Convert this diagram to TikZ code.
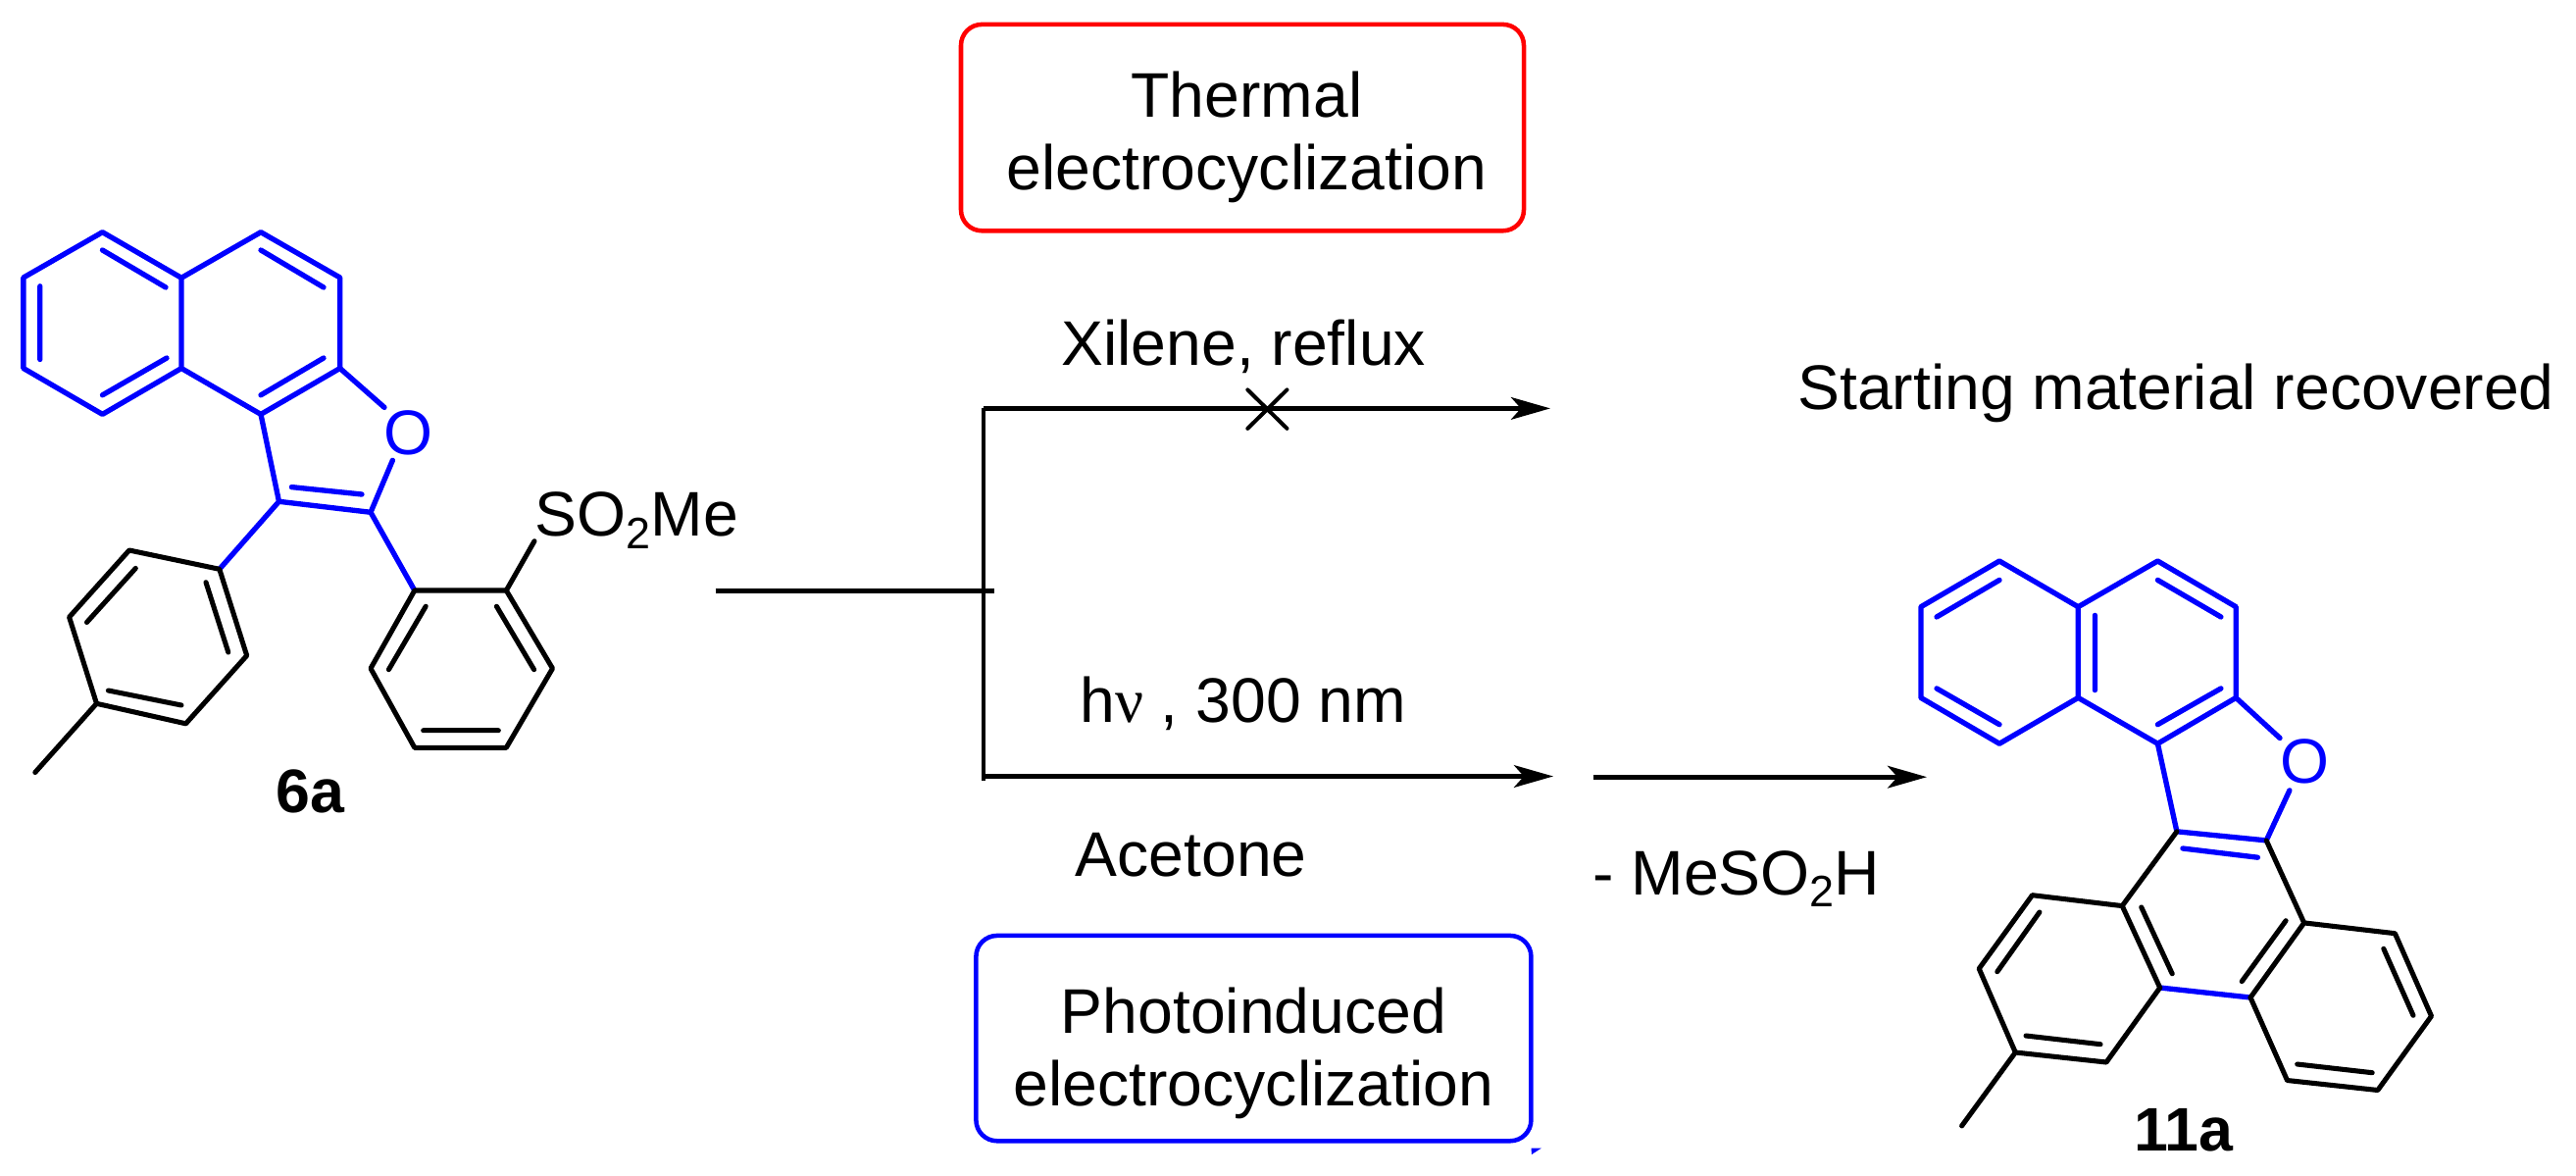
\documentclass[tikz,border=0pt]{standalone}
\usepackage{fontspec}
\setmainfont{Liberation Sans}
\newfontfamily\symfont{Liberation Serif}
\usetikzlibrary{arrows.meta}
\newcommand{\mainsize}{\fontsize{48.2pt}{55.8pt}\selectfont}
\newcommand{\boldsize}{\fontsize{47pt}{55.8pt}\selectfont}
\newcommand{\subtwo}{\raisebox{-9.2pt}{\fontsize{33.7pt}{33.7pt}\selectfont 2}}
\tikzset{
  bk/.style={draw=black,line width=3.8pt,line cap=round,line join=round},
  bl/.style={draw=blue,line width=4pt,line cap=round,line join=round},
  rline/.style={draw=black,line width=3.5pt},
  rarrow/.style={rline,-{Stealth[length=30pt,width=17pt,inset=7.5pt]}},
  lab/.style={inner sep=0pt,anchor=base,font=\mainsize,text=black},
  blab/.style={inner sep=0pt,anchor=base,font=\boldsize\bfseries,text=black},
  ringbox/.style={line width=3.4pt,rounded corners=16pt,fill=none,inner sep=0pt},
  boxtext/.style={inner sep=0pt,anchor=center,align=center,font=\mainsize,text=black},
}
\begin{document}
\begin{tikzpicture}[x=0.75pt,y=-0.75pt]
\useasboundingbox (0,0) rectangle (2627,1199);
% --- reactant 6a atoms
\foreach \n/\x/\y in {
 a1/104.5/236.7,a2/185/283.3,a3/266/236.7,a4/346.7/283,a5/346.7/375.5,a6/266/422.4,a7/185/375.5,a8/104.5/422.4,a9/23.9/375.5,a10/23.9/283,
 k/284.5/511.3,l/378/522.3,
 t1/223.8/580.3,t2/131.8/561,t3/70.6/629.2,t4/98.5/717.3,t5/189.5/737.8,t6/251.7/668.4,tm/35.8/787.5,
 r1/422.8/602,r2/516.3/602,r3/563.5/681.5,r4/516.3/762.3,r5/422.8/762.3,r6/378/681.5,
 se/545/551.7,oa/392/415.4,ob/400.4/469.3,
 ia1/104.5/255,ia2/169/293,ib1/266/255,ib2/330/293,ic1/40.8/291.8,ic2/40.8/366.5,id1/170/365,id2/104.5/402.8,ie1/330/365,ie2/266/402.8,
 if1/297.4/496.6,if2/369/504,ig1/210/593.7,ig2/232.8/665,ih1/138.3/579.4,ih2/88.5/634.5,ii1/110.4/704,ii2/185/719,
 ij1/434.2/618.2,ij2/396.4/682.7,ik1/506.4/618.2,ik2/544.6/682.7,il1/431.7/744.7,il2/508.3/744.7,
 % --- product 11a atoms
 p1/2039/572,p2/2119.3/618.7,p3/2200.4/572,p4/2280.2/618.7,p5/2280.2/711.4,p6/2200.4/758.2,p7/2119.3/711.4,p8/2039/758.2,p9/1958.9/711.4,p10/1958.9/618.7,
 q1/2219.9/847.8,q2/2311.2/856.9,q3/2349.7/940.9,q4/2295/1017,q5/2202.7/1007,q6/2164.2/923.6,
 u1/2072.5/912.7,u2/2018.2/987.6,u3/2055.3/1073,u4/2148/1083,um/2000.6/1147.9,
 v1/2442.4/951.7,v2/2479.5/1036,v3/2424.8/1111.5,v4/2332.5/1101.5,
 pa/2325/752.5,pb/2334.9/805.8,
 ja1/2039/591.4,ja2/1975/629,jb1/2200.4/591.4,jb2/2264.9/629,jc1/2136.4/627.4,jc2/2136.4/703.6,jd1/1975/701.9,jd2/2039/738.7,je1/2264.9/701.9,je2/2200.4/738.7,
 jf1/2225.9/865,jf2/2302.4/874.2,jg1/2183.7/924.9,jg2/2215.2/992.8,jh1/2331.1/938.7,jh2/2286.2/1000.6,ji1/2079.9/930,ji2/2036.8/990.7,jj1/2066/1056,jj2/2142/1064.7,jk1/2430.8/967.3,jk2/2461/1035.3,jl1/2342.7/1085,jl2/2419.2/1093.7,
 % --- scheme junctions
 h0/729.7/602.2,h1/1014/602.2,vt/1003.4/416.4,vb/1003.4/796,ta/1581/416.4,ba/1584/791.5,bs/1003.4/791.5,ps/1624.7/792.2,pe/1965/792.2,
 xa/1272.3/397.4,xb/1312.5/436.9,xc/1312.5/397.4,xd/1272.3/436.9,
 tk1/1561.5/1170.5,tk2/1572/1170.5,tk3/1562/1177}
 {\coordinate (\n) at (\x,\y);}
% --- 6a
\draw[bl] (a1)--(a2)--(a3)--(a4)--(a5)--(a6)--(a7)--(a8)--(a9)--(a10)--cycle (a2)--(a7);
\draw[bl] (ia1)--(ia2) (ib1)--(ib2) (ic1)--(ic2) (id1)--(id2) (ie1)--(ie2) (if1)--(if2);
\draw[bl] (a5)--(oa) (l)--(ob) (a6)--(k)--(l) (k)--(t1) (l)--(r1);
\draw[bk] (t1)--(t2)--(t3)--(t4)--(t5)--(t6)--cycle (t4)--(tm);
\draw[bk] (ig1)--(ig2) (ih1)--(ih2) (ii1)--(ii2);
\draw[bk] (r1)--(r2)--(r3)--(r4)--(r5)--(r6)--cycle (r2)--(se);
\draw[bk] (ij1)--(ij2) (ik1)--(ik2) (il1)--(il2);
\node[lab,text=blue] (o6a) at (416.5,463) {O};
\node[lab,anchor=base west] (so2me) at (545.6,546.8) {SO\subtwo Me};
\node[blab] (lab6a) at (316.6,828) {6a};
% --- 11a
\draw[bl] (p1)--(p2)--(p3)--(p4)--(p5)--(p6)--(p7)--(p8)--(p9)--(p10)--cycle (p2)--(p7);
\draw[bl] (ja1)--(ja2) (jb1)--(jb2) (jc1)--(jc2) (jd1)--(jd2) (je1)--(je2) (jf1)--(jf2);
\draw[bl] (p5)--(pa) (q2)--(pb) (p6)--(q1)--(q2) (q5)--(q4);
\draw[bk] (q1)--(q6)--(q5) (q2)--(q3)--(q4);
\draw[bk] (q6)--(u1)--(u2)--(u3)--(u4)--(q5) (u3)--(um);
\draw[bk] (q3)--(v1)--(v2)--(v3)--(v4)--(q4);
\draw[bk] (jg1)--(jg2) (jh1)--(jh2) (ji1)--(ji2) (jj1)--(jj2) (jk1)--(jk2) (jl1)--(jl2);
\node[lab,text=blue] (o11a) at (2350,798) {O};
\node[blab] (lab11a) at (2227,1173) {11a};
% --- scheme
\draw[rline] (h0)--(h1);
\draw[rline,line width=3pt] (vb)--(vt);
\draw[rarrow] (vt)--(ta);
\draw[rarrow] (bs)--(ba);
\draw[rarrow] (ps)--(pe);
\draw[draw=black,line width=3pt,line cap=round] (xa)--(xb) (xc)--(xd);
\node[ringbox,draw=red,minimum width=430.5pt,minimum height=157.8pt] (thermal) at (1267,130.1) {};
\node[boxtext] (thermaltext) at (1271.5,140) {Thermal\\electrocyclization};
\node[ringbox,draw=blue,minimum width=424.5pt,minimum height=157pt] (photo) at (1278.4,1058.6) {};
\node[boxtext] (phototext) at (1278.4,1074) {Photoinduced\\electrocyclization};
\fill[blue] (tk1)--(tk2)--(tk3)--cycle;
\node[lab] (xil) at (1268.3,372.5) {Xilene, reflux};
\node[lab,anchor=base west] (smr) at (1833,417.3) {Starting material recovered};
\node[lab,anchor=base west] (hv) at (1101,736.3) {h{\symfont ν} , 300 nm};
\node[lab,anchor=base west] (ace) at (1096.4,893.8) {Acetone};
\node[lab,anchor=base west] (meso) at (1624,912.7) {- MeSO\subtwo H};
\end{tikzpicture}
\end{document}
